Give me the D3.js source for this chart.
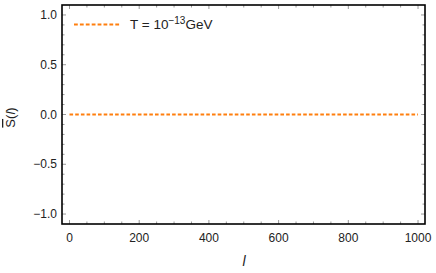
<!DOCTYPE html>
<html>
<head>
<meta charset="utf-8">
<script src="https://cdn.jsdelivr.net/npm/d3@7"></script>
<style>
body { margin: 0; background: #fff; }
text { font-family: "Liberation Sans", Arial, sans-serif; }
</style>
</head>
<body>
<script>
var lValues = [0, 250, 500, 750, 1000];
var sValues = [0, 0, 0, 0, 0];
var xTicks = [0, 200, 400, 600, 800, 1000];
var yTicks = [-1.0, -0.5, 0.0, 0.5, 1.0];
var legendLabel = "T = 10";
var legendExp = "\u221213";
var legendUnit = "GeV";

var W = 436, H = 273;
var pLeft = 62, pRight = 425, pTop = 5, pBottom = 224;

var svg = d3.select('body').append('svg')
    .attr('width', W)
    .attr('height', H);

var x = d3.scaleLinear().domain([-21.5, 1020]).range([pLeft, pRight]);
var y = d3.scaleLinear().domain([-1.1, 1.1]).range([pBottom, pTop]);

var orange = '#ff7f0e';
var axisColor = '#000';

// ticks
var xMinor = d3.range(0, 1001, 50);
var yMinor = d3.range(-10, 11).map(function(d) { return d / 10; });

svg.selectAll('.xt').data(xMinor).enter().append('line')
    .attr('x1', function(d) { return x(d); })
    .attr('x2', function(d) { return x(d); })
    .attr('y1', pBottom)
    .attr('y2', function(d) { return pBottom - (d % 200 === 0 ? 4 : 2.5); })
    .attr('stroke', '#999').attr('stroke-width', 1);
svg.selectAll('.xtt').data(xMinor).enter().append('line')
    .attr('x1', function(d) { return x(d); })
    .attr('x2', function(d) { return x(d); })
    .attr('y1', pTop)
    .attr('y2', function(d) { return pTop + (d % 200 === 0 ? 4 : 2.5); })
    .attr('stroke', '#999').attr('stroke-width', 1);
svg.selectAll('.yt').data(yMinor).enter().append('line')
    .attr('x1', pLeft)
    .attr('x2', function(d) { return pLeft + (Math.round(d * 10) % 5 === 0 ? 4 : 2.5); })
    .attr('y1', function(d) { return y(d); })
    .attr('y2', function(d) { return y(d); })
    .attr('stroke', '#999').attr('stroke-width', 1);
svg.selectAll('.ytr').data(yMinor).enter().append('line')
    .attr('x1', pRight)
    .attr('x2', function(d) { return pRight - (Math.round(d * 10) % 5 === 0 ? 4 : 2.5); })
    .attr('y1', function(d) { return y(d); })
    .attr('y2', function(d) { return y(d); })
    .attr('stroke', '#999').attr('stroke-width', 1);

// frame
svg.append('rect')
    .attr('x', pLeft).attr('y', pTop)
    .attr('width', pRight - pLeft).attr('height', pBottom - pTop)
    .attr('fill', 'none')
    .attr('stroke', axisColor)
    .attr('stroke-width', 1.6);

// tick labels
svg.selectAll('.xl').data(xTicks).enter().append('text')
    .attr('x', function(d) { return x(d); })
    .attr('y', pBottom + 18)
    .attr('text-anchor', 'middle')
    .attr('font-size', 12)
    .attr('fill', '#222')
    .text(function(d) { return d; });
svg.selectAll('.yl').data(yTicks).enter().append('text')
    .attr('x', pLeft - 5)
    .attr('y', function(d) { return y(d) + 4; })
    .attr('text-anchor', 'end')
    .attr('font-size', 12)
    .attr('fill', '#222')
    .text(function(d) { return d.toFixed(1).replace('-', '\u2212'); });

// axis labels
svg.append('text')
    .attr('x', 244).attr('y', 266)
    .attr('font-size', 14)
    .attr('font-style', 'italic')
    .attr('text-anchor', 'middle')
    .attr('fill', '#222')
    .text('l');

var yl = svg.append('text')
    .attr('transform', 'translate(15,' + ((pTop + pBottom) / 2 + 3) + ') rotate(-90)')
    .attr('font-size', 13)
    .attr('text-anchor', 'middle')
    .attr('fill', '#222');
yl.append('tspan').attr('text-decoration', 'overline').text('S');
yl.append('tspan').text('(');
yl.append('tspan').attr('font-style', 'italic').text('l');
yl.append('tspan').text(')');

// data line
var line = d3.line()
    .x(function(d, i) { return x(lValues[i]); })
    .y(function(d) { return y(d); });
svg.append('path')
    .datum(sValues)
    .attr('d', line)
    .attr('fill', 'none')
    .attr('stroke', orange)
    .attr('stroke-width', 2)
    .attr('stroke-dasharray', '3.6,2.1');

// legend
svg.append('line')
    .attr('x1', 74).attr('x2', 121)
    .attr('y1', 24.5).attr('y2', 24.5)
    .attr('stroke', orange)
    .attr('stroke-width', 2)
    .attr('stroke-dasharray', '3.8,2.1');
var lg = svg.append('text')
    .attr('x', 130).attr('y', 29)
    .attr('font-size', 13.5)
    .attr('fill', '#222');
lg.append('tspan').text(legendLabel);
lg.append('tspan').attr('dy', -5.5).attr('font-size', 10).text(legendExp);
lg.append('tspan').attr('dy', 5.5).text(legendUnit);
</script>
</body>
</html>
